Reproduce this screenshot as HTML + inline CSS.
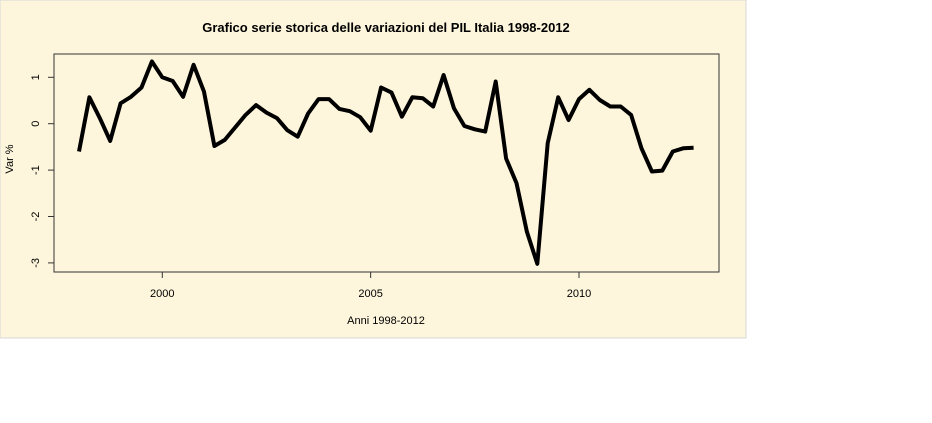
<!DOCTYPE html>
<html><head><meta charset="utf-8"><style>
html,body{margin:0;padding:0;background:#fff;width:932px;height:423px;overflow:hidden}
svg{display:block;font-family:"Liberation Sans",Arial,sans-serif}
</style></head><body>
<svg width="932" height="423">
<rect x="0" y="0" width="746" height="338" fill="#fdf6dc" stroke="#d8d8d8"/>
<text x="386" y="32" text-anchor="middle" font-size="13" font-weight="bold" fill="#000">Grafico serie storica delle variazioni del PIL Italia 1998-2012</text>
<rect x="54" y="54" width="665" height="218" fill="none" stroke="#333" stroke-width="1"/>
<g id="xticks"></g>
<g id="yticks"></g>
<text x="386" y="324" text-anchor="middle" font-size="11" fill="#000">Anni 1998-2012</text>
<text transform="translate(13,159) rotate(-90)" text-anchor="middle" font-size="11" fill="#000">Var %</text>
<path id="series" fill="none" stroke="#000" stroke-width="4" stroke-linejoin="round"/>
</svg>
<script>
const startYear = 1998;
const values = [-0.60,0.57,0.12,-0.37,0.44,0.58,0.78,1.34,1.0,0.92,0.58,1.27,0.69,-0.48,-0.35,-0.08,0.19,0.40,0.24,0.12,-0.14,-0.28,0.22,0.53,0.53,0.32,0.27,0.14,-0.15,0.78,0.67,0.15,0.57,0.55,0.37,1.05,0.33,-0.05,-0.12,-0.17,0.91,-0.75,-1.28,-2.33,-3.02,-0.42,0.57,0.08,0.53,0.73,0.51,0.37,0.37,0.19,-0.53,-1.03,-1.01,-0.60,-0.53,-0.52];
const xTicks = [2000,2005,2010];
const yTicks = [1,0,-1,-2,-3];
function xs(t){return 162.3+(t-2000)*41.67;}
function ys(v){return 123.7-v*46.4;}
const NS="http://www.w3.org/2000/svg";
let d="";
values.forEach((v,i)=>{const t=startYear+i/4;d+=(i?"L":"M")+xs(t).toFixed(1)+" "+ys(v).toFixed(1);});
document.getElementById('series').setAttribute('d',d);
const gx=document.getElementById('xticks');
xTicks.forEach(t=>{
 const l=document.createElementNS(NS,'line');
 
 
 l.setAttribute('x1',xs(t));l.setAttribute('x2',xs(t));l.setAttribute('y1',272);l.setAttribute('y2',278);l.setAttribute('stroke','#333');
 gx.appendChild(l);
 const tx=document.createElementNS(NS,'text');
 
 
 tx.setAttribute('x',xs(t));tx.setAttribute('y',297);tx.setAttribute('text-anchor','middle');tx.setAttribute('font-size','11');
 tx.textContent=t;gx.appendChild(tx);
});
const gy=document.getElementById('yticks');
yTicks.forEach(v=>{
 const l=document.createElementNS(NS,'line');
 
 
 l.setAttribute('x1',48);l.setAttribute('x2',54);l.setAttribute('y1',ys(v));l.setAttribute('y2',ys(v));l.setAttribute('stroke','#333');
 gy.appendChild(l);
 const tx=document.createElementNS(NS,'text');
 
 
 tx.setAttribute('transform','translate(39,'+ys(v)+') rotate(-90)');tx.setAttribute('text-anchor','middle');tx.setAttribute('font-size','11');
 tx.textContent=v;gy.appendChild(tx);
});
</script>
</body></html>
